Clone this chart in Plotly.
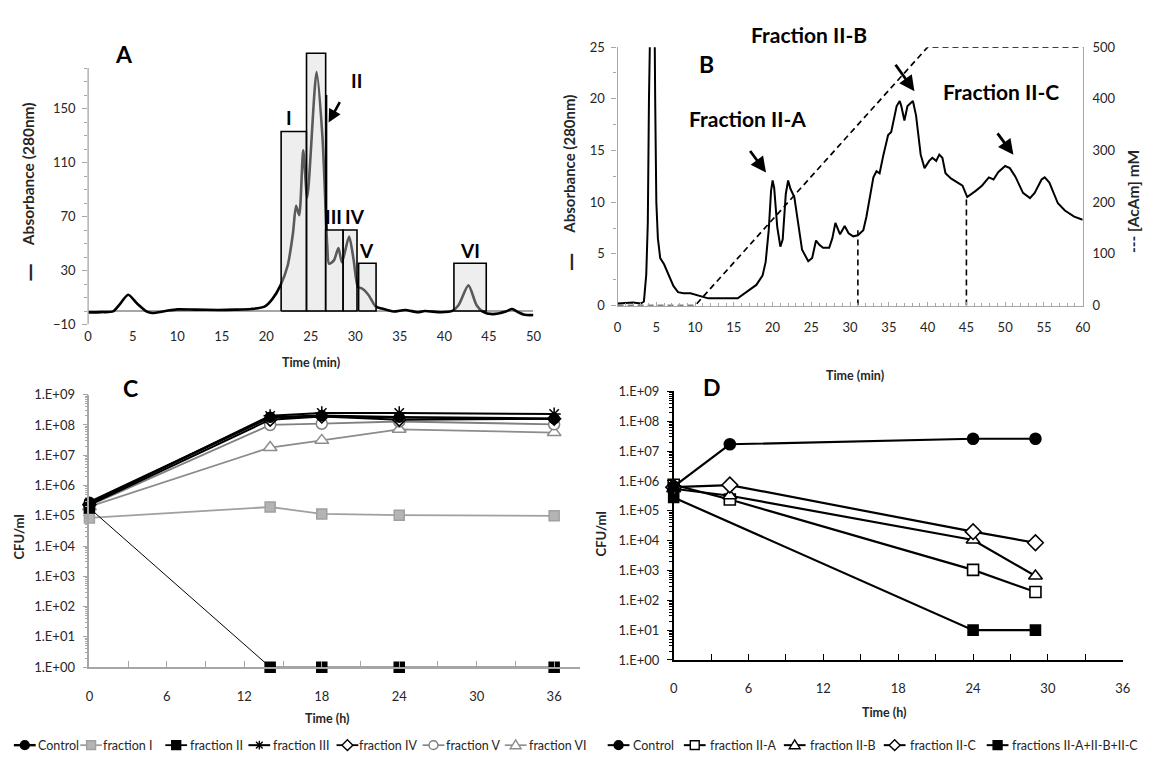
import plotly.graph_objects as go

W, H = 1157, 761


def px(x):
    return x / W


def py(y):
    return 1 - y / H


FONT = "Lato, 'Open Sans', sans-serif"
GREY_AX = "#a6a6a6"
TXT = "#262626"

# ---------------- Panel A : chromatogram + collected fractions ----------------
a_time = [0, 1.5, 2.8, 3.5, 4.5, 5.5, 6.6, 7.2, 8.7, 10, 12, 14.6, 16.5, 18.3, 19.8,
          20.7, 21.6, 22.4, 23.0, 23.35, 23.7, 24.15, 24.6, 25.65, 26.3, 26.85, 27.05,
          27.6, 28.1, 28.5, 29.3, 29.8, 30.3, 30.8, 31.5, 32.3, 33.0, 34.3, 35.6, 37.0,
          37.8, 39.6, 40.9, 41.6, 42.7, 43.6, 44.3, 45.4, 46.9, 47.6, 48.3, 49.0, 50.0]
a_abs = [-1, -0.8, -0.3, 4.5, 12, 5.5, -0.5, -1.5, 0, 1.2, 1.0, 0.8, 1.0, 1.5, 3.2,
         9, 19, 33.5, 57.6, 78, 71, 119, 84, 177, 130, 48, 35,
         37.5, 46.7, 36, 55.2, 38.3, 17.8, 16.5, 11.7, 3.3, 1.8, -0.4, 0.8, -0.9,
         0, -0.9, 0.1, 4.5, 19, 4.5, -0.4, -2.3, -0.4, 1.5, -0.9, -2.8, -3]

frac_names = ["I", "II", "III", "IV", "V", "VI"]
frac_start = [21.67, 24.52, 26.67, 28.63, 30.37, 41.07]
frac_end = [24.52, 26.67, 28.63, 30.19, 32.33, 44.70]
frac_height = [133, 191, 60, 60, 35.4, 35.4]
frac_label_x = [22.6, 30.1, 27.6, 30.0, 31.3, 42.9]
frac_label_y = [143, 171, 70, 70, 45, 45]
a_ticks = [0, 5, 10, 15, 20, 25, 30, 35, 40, 45, 50]
a_yticks = [-10, 30, 70, 110, 150]

# ---------------- Panel B : ion-exchange of fraction II ----------------
b_time = [0, 1, 2, 3, 3.4, 3.7, 3.9, 4.05, 4.3, 4.6, 4.85, 5.0, 5.2, 5.5, 6.0, 6.6, 7.2,
          7.8, 8.5, 9.4, 10.2, 11.1, 11.7, 15.5, 16.2, 17.0, 17.9, 18.7, 19.1, 19.5, 19.8,
          20.0, 20.2, 20.6, 21.0, 21.3, 21.7, 22.0, 22.3, 22.8, 23.2, 23.8, 24.6, 25.1,
          25.6, 26.0, 26.5, 27.3, 27.7, 28.1, 28.7, 29.3, 29.8, 30.4, 31.0, 31.7, 32.1,
          33.0, 33.4, 33.8, 34.3, 34.9, 35.3, 36.0, 36.4, 36.6, 37.0, 37.4, 38.1, 38.5,
          39.1, 39.6, 40.2, 40.6, 41.1, 41.5, 41.9, 42.3, 43.0, 43.8, 44.5, 45.1, 45.5,
          46.2, 47.0, 47.9, 48.5, 49.1, 50.0, 50.6, 51.3, 52.3, 53.2, 53.8, 54.7, 55.1,
          55.7, 56.8, 57.7, 58.9, 60.0]
b_abs = [0.2, 0.25, 0.3, 0.2, 0.4, 3, 8, 20, 45, 45, 20, 10, 6.5, 4.6, 4.0, 2.9, 1.9,
         1.3, 1.2, 1.2, 1.05, 0.85, 0.7, 0.7, 1.1, 1.5, 2.0, 2.9, 4.2, 7.3, 11.1,
         12.1, 11.4, 7.6, 5.7, 6.4, 10.8, 12.1, 11.3, 10.5, 8.6, 5.4, 4.3, 4.6,
         6.3, 5.9, 5.6, 5.6, 6.5, 8.0, 6.9, 7.7, 7.0, 6.7, 6.8, 7.3, 8.6,
         12.4, 13.0, 12.8, 14.6, 16.5, 16.8, 19.3, 19.8, 19.3, 17.9, 19.3, 19.8, 18.4,
         14.6, 13.3, 14.0, 14.3, 14.0, 14.6, 14.3, 12.8, 12.3, 11.9, 11.6, 10.5, 10.7,
         11.1, 11.6, 12.4, 12.2, 12.9, 13.5, 13.3, 12.5, 10.9, 10.4, 10.9, 12.2, 12.4,
         11.9, 9.9, 9.2, 8.6, 8.3]
grad_time = [0, 10, 40, 60]
grad_conc = [0, 0, 500, 500]
cut_times = [31, 45]
cut_levels = [7.3, 10.5]

# ---------------- Panel C : growth with fractions I-VI ----------------
c_time = [0, 14, 18, 24, 36]
c_control = [2.8e5, 1.8e8, 2.0e8, 1.8e8, 1.6e8]
c_frac1 = [8.5e4, 1.95e5, 1.15e5, 1.05e5, 1.0e5]
c_frac2 = [1.8e5, 1, 1, 1, 1]
c_frac3 = [2.5e5, 2.0e8, 2.5e8, 2.5e8, 2.3e8]
c_frac4 = [2.3e5, 1.5e8, 1.9e8, 1.5e8, 1.6e8]
c_frac5 = [2.2e5, 1.0e8, 1.1e8, 1.3e8, 1.05e8]
c_frac6 = [2.0e5, 1.8e7, 3.1e7, 7.2e7, 5.6e7]

# ---------------- Panel D : growth with sub-fractions of II ----------------
d_time = [0, 4.5, 24, 29]
d_control = [6.5e5, 1.7e7, 2.6e7, 2.6e7]
d_2a = [7.5e5, 2.4e5, 1.05e3, 1.9e2]
d_2b = [5.5e5, 3.2e5, 1.05e4, 6.5e2]
d_2c = [6.2e5, 7.3e5, 2.0e4, 8.5e3]
d_combo = [2.8e5, None, 10, 10]

log_tickvals = [10 ** k for k in range(10)]
log_ticktext = ["1.E+%02d" % k for k in range(10)]
log_minor = [m * 10 ** k for k in range(9) for m in range(2, 10)]
h_ticks = [0, 6, 12, 18, 24, 30, 36]
h_minor = [3, 9, 15, 21, 27, 33]

fig = go.Figure()

# ---- A traces
fig.add_trace(go.Scatter(x=a_time, y=a_abs, mode="lines",
                         line=dict(color="black", width=2.6, shape="spline", smoothing=0.7),
                         xaxis="x", yaxis="y", showlegend=False, hoverinfo="skip"))
for s, e, h in zip(frac_start, frac_end, frac_height):
    fig.add_trace(go.Scatter(x=[s, s, e, e, s], y=[0, h, h, 0, 0], mode="lines",
                             fill="toself", fillcolor="rgba(215,215,215,0.42)",
                             line=dict(color="black", width=1.6),
                             xaxis="x", yaxis="y", showlegend=False, hoverinfo="skip"))

# ---- B traces
fig.add_trace(go.Scatter(x=b_time, y=b_abs, mode="lines", line=dict(color="black", width=2),
                         xaxis="x2", yaxis="y2", showlegend=False, hoverinfo="skip"))
fig.add_trace(go.Scatter(x=grad_time, y=grad_conc, mode="lines",
                         line=dict(color="black", width=1.7, dash="6px,4px"),
                         xaxis="x2", yaxis="y3", showlegend=False, hoverinfo="skip"))
for t, lv in zip(cut_times, cut_levels):
    fig.add_trace(go.Scatter(x=[t, t], y=[0, lv], mode="lines",
                             line=dict(color="black", width=1.6, dash="6px,4px"),
                             xaxis="x2", yaxis="y2", showlegend=False, hoverinfo="skip"))

# ---- C traces  (name, values, line colour, line width, symbol, fill, edge, size)
c_series = [
    ("fraction I", c_frac1, "#a0a0a0", 1.8, "square", "#b4b4b4", "#a0a0a0", 10),
    ("fraction VI", c_frac6, "#8c8c8c", 1.8, "triangle-up", "white", "#8c8c8c", 12),
    ("fraction V", c_frac5, "#808080", 1.8, "circle", "white", "#808080", 11),
    ("fraction IV", c_frac4, "black", 2.0, "diamond", "white", "black", 10),
    ("fraction III", c_frac3, "black", 2.0, "asterisk-open", "black", "black", 11),
    ("fraction II", c_frac2, "black", 1.0, "square", "black", "black", 10),
    ("Control", c_control, "black", 2.6, "circle", "black", "black", 10),
]
for name, vals, lc, lw, sym, fc, ec, sz in c_series:
    fig.add_trace(go.Scatter(x=c_time, y=vals, mode="lines+markers", name=name,
                             line=dict(color=lc, width=lw),
                             marker=dict(symbol=sym, size=sz, color=fc,
                                         line=dict(color=ec, width=1.5)),
                             cliponaxis=False, xaxis="x3", yaxis="y4", showlegend=False))

d_series = [
    ("fractions II-A+II-B+II-C", d_combo, "square", "black", 10),
    ("fraction II-A", d_2a, "square", "white", 11),
    ("fraction II-B", d_2b, "triangle-up", "white", 12),
    ("fraction II-C", d_2c, "diamond", "white", 12),
    ("Control", d_control, "circle", "black", 11),
]
for name, vals, sym, fc, sz in d_series:
    fig.add_trace(go.Scatter(x=d_time, y=vals, mode="lines+markers", name=name,
                             connectgaps=True, line=dict(color="black", width=2.2),
                             marker=dict(symbol=sym, size=sz, color=fc,
                                         line=dict(color="black", width=1.6)),
                             cliponaxis=False, xaxis="x4", yaxis="y5", showlegend=False))

tf = dict(family=FONT, size=13, color=TXT)

# A scale: -10 at 323.3 px, 1.379 px per unit -> 192 at 44.8 px
fig.update_layout(
    width=W, height=H, margin=dict(l=0, r=0, t=0, b=0),
    paper_bgcolor="white", plot_bgcolor="rgba(0,0,0,0)",
    font=dict(family=FONT, color=TXT), showlegend=False,
    xaxis=dict(domain=[px(85), px(535)], range=[0, 50], tickmode="array", tickvals=a_ticks,
               showline=False, ticks="", showgrid=False, zeroline=False, tickfont=tf,
               anchor="y", ticklabelstandoff=2),
    yaxis=dict(domain=[py(323.3), py(44.8)], range=[-10, 192], tickmode="array",
               tickvals=a_yticks, showline=False, ticks="outside", ticklen=5,
               tickcolor=GREY_AX, showgrid=False, zeroline=True, zerolinecolor=GREY_AX,
               zerolinewidth=1.6, tickfont=tf, anchor="x", ticklabelstandoff=4,
               minor=dict(tickmode="array", tickvals=list(range(-10, 181, 10)),
                          ticks="outside", ticklen=3, tickcolor=GREY_AX)),
    xaxis2=dict(domain=[px(620), px(1090)], range=[0, 60], dtick=5, tick0=0,
                showline=True, linecolor=GREY_AX, linewidth=1.2, ticks="inside", ticklen=4,
                tickcolor=GREY_AX, showgrid=False, zeroline=False, tickfont=tf, anchor="y2",
                ticklabelstandoff=10,
                minor=dict(dtick=1, ticks="inside", ticklen=3, tickcolor=GREY_AX)),
    yaxis2=dict(domain=[py(304), py(40)], range=[0, 25], dtick=5, showline=True,
                linecolor=GREY_AX, linewidth=1.2, ticks="outside", ticklen=5,
                tickcolor=GREY_AX, showgrid=False, zeroline=False, tickfont=tf,
                anchor="x2", ticklabelstandoff=4,
                minor=dict(dtick=2.5, ticks="outside", ticklen=3, tickcolor=GREY_AX)),
    yaxis3=dict(domain=[py(304), py(40)], range=[0, 500], dtick=100, overlaying="y2",
                side="right", anchor="x2", showline=True, linecolor=GREY_AX, linewidth=1.2,
                ticks="", showgrid=False, zeroline=False, tickfont=tf, ticklabelstandoff=6),
    xaxis3=dict(domain=[px(86.3), px(582)], range=[0, 38], tickmode="array", tickvals=h_ticks,
                showline=True, linecolor=GREY_AX, linewidth=1.6, ticks="inside", ticklen=6,
                tickcolor=GREY_AX, showgrid=False, zeroline=False, tickfont=tf, anchor="y4",
                ticklabelstandoff=16,
                minor=dict(tickmode="array", tickvals=h_minor, ticks="inside", ticklen=6,
                           tickcolor=GREY_AX)),
    yaxis4=dict(domain=[py(673.3), py(395)], type="log", range=[0, 9], tickmode="array",
                tickvals=log_tickvals, ticktext=log_ticktext, showline=True,
                linecolor=GREY_AX, linewidth=1.6, ticks="outside", ticklen=5,
                tickcolor=GREY_AX, showgrid=False, zeroline=False, tickfont=tf,
                anchor="x3", ticklabelstandoff=5,
                minor=dict(tickmode="array", tickvals=log_minor, ticks="outside", ticklen=3,
                           tickcolor=GREY_AX)),
    xaxis4=dict(domain=[px(676.7), px(1130.5)], range=[0, 36], tickmode="array",
                tickvals=h_ticks, showline=True, linecolor="black", linewidth=1.6,
                ticks="inside", ticklen=6, tickcolor="black", showgrid=False, zeroline=False,
                tickfont=tf, anchor="y5", ticklabelstandoff=16,
                minor=dict(tickmode="array", tickvals=h_minor, ticks="inside", ticklen=6,
                           tickcolor="black")),
    yaxis5=dict(domain=[py(666), py(391.7)], type="log", range=[0, 9], tickmode="array",
                tickvals=log_tickvals, ticktext=log_ticktext, showline=True,
                linecolor="black", linewidth=1.6, ticks="outside", ticklen=5,
                tickcolor="black", showgrid=False, zeroline=False, tickfont=tf,
                anchor="x4", ticklabelstandoff=5,
                minor=dict(tickmode="array", tickvals=log_minor, ticks="outside", ticklen=3,
                           tickcolor="black")),
)

shapes = []
annotations = []


def note(x, y, text, size=13, bold=True, angle=0, xanchor="center", color=TXT):
    t = "<b>%s</b>" % text if bold else text
    annotations.append(dict(x=px(x), y=py(y), xref="paper", yref="paper", text=t,
                            showarrow=False, textangle=angle, xanchor=xanchor,
                            yanchor="middle", font=dict(family=FONT, size=size, color=color)))


def arrow(x_tail, y_tail, x_head, y_head):
    annotations.append(dict(x=px(x_head), y=py(y_head), xref="paper", yref="paper",
                            ax=x_tail - x_head, ay=y_tail - y_head, text="",
                            showarrow=True, arrowhead=2, arrowsize=1.1, arrowwidth=2.8,
                            arrowcolor="black"))


# A axis line (stops at 180 while the range extends for the tall fraction II box)
shapes.append(dict(type="line", xref="paper", yref="y", x0=px(85), x1=px(85), y0=-10, y1=180,
                   line=dict(color=GREY_AX, width=1.3)))
# fraction II marker line
shapes.append(dict(type="line", xref="x", yref="y", x0=frac_end[1] + 0.1, x1=frac_end[1] + 0.1,
                   y0=frac_height[2], y1=160, line=dict(color="black", width=1.6)))
for name, lx, ly in zip(frac_names, frac_label_x, frac_label_y):
    annotations.append(dict(x=lx, y=ly, xref="x", yref="y", text="<b>%s</b>" % name,
                            showarrow=False, font=dict(family=FONT, size=19, color="black")))
annotations.append(dict(x=px(328), y=py(117), xref="paper", yref="paper", ax=12, ay=-22,
                        text="", showarrow=True, arrowhead=2, arrowsize=1.0, arrowwidth=2.6,
                        arrowcolor="black"))

# panel letters
note(121, 47, "A", size=23, color="black")
note(710, 57, "B", size=23, color="black")
note(128, 388, "C", size=23, color="black")
note(715, 387, "D", size=23, color="black")

# axis titles (line-style key drawn as a separate dash, as in the original)
note(25, 170, "Absorbance (280nm)", size=15.5, angle=-90)
note(25, 270, "—", size=24, angle=-90)
note(310, 362, "Time (min)", size=12.5)
note(571, 160, "Absorbance (280nm)", size=15, angle=-90)
note(571, 260, "—", size=24, angle=-90)
note(1141, 198, "--- [AcAm] mM", size=15.5, angle=-90)
note(860, 375, "Time (min)", size=12.5)
note(15, 540, "CFU/ml", size=13, angle=-90)
note(327, 726, "Time (h)", size=12.5)
note(603, 537, "CFU/ml", size=13, angle=-90)
note(890, 720, "Time (h)", size=12.5)

# B labels and arrows
note(751, 113, "Fraction II-A", size=21, color="black")
note(813, 27, "Fraction II-B", size=21, color="black")
note(1007, 85, "Fraction II-C", size=21, color="black")
arrow(753, 145, 770, 168)
arrow(900, 57, 920, 85)
arrow(1003, 127, 1020, 150)


# ---- hand-made compact legends (Excel style)
def glyph(cx, cy, sym, fill, edge, r=4.5):
    X0, X1 = px(cx - r), px(cx + r)
    Y0, Y1 = py(cy + r), py(cy - r)
    ln = dict(color=edge, width=1.4)
    if sym == "circle":
        shapes.append(dict(type="circle", xref="paper", yref="paper", x0=X0, x1=X1, y0=Y0,
                           y1=Y1, fillcolor=fill, line=ln))
    elif sym == "square":
        shapes.append(dict(type="rect", xref="paper", yref="paper", x0=X0, x1=X1, y0=Y0,
                           y1=Y1, fillcolor=fill, line=ln))
    elif sym == "diamond":
        p = "M %f,%f L %f,%f L %f,%f L %f,%f Z" % (px(cx), py(cy - r - 1), px(cx + r + 1), py(cy),
                                                px(cx), py(cy + r + 1), px(cx - r - 1), py(cy))
        shapes.append(dict(type="path", xref="paper", yref="paper", path=p, fillcolor=fill,
                           line=ln))
    elif sym == "triangle":
        p = "M %f,%f L %f,%f L %f,%f Z" % (px(cx), py(cy - r - 1), px(cx + r + 1),
                                          py(cy + r * 0.8), px(cx - r - 1), py(cy + r * 0.8))
        shapes.append(dict(type="path", xref="paper", yref="paper", path=p, fillcolor=fill,
                           line=ln))
    elif sym == "asterisk":
        d = r * 0.75
        p = "M %f,%f L %f,%f M %f,%f L %f,%f M %f,%f L %f,%f" % (
            px(cx), py(cy - r), px(cx), py(cy + r),
            px(cx - d), py(cy - d), px(cx + d), py(cy + d),
            px(cx - d), py(cy + d), px(cx + d), py(cy - d))
        shapes.append(dict(type="path", xref="paper", yref="paper", path=p,
                           line=dict(color=edge, width=1.4)))


def legend_entry(x0, xt, y, label, lcolor, lwidth, sym, fill, edge):
    shapes.append(dict(type="line", xref="paper", yref="paper", x0=px(x0), x1=px(x0 + 22),
                       y0=py(y), y1=py(y), line=dict(color=lcolor, width=max(lwidth, 1.5))))
    glyph(x0 + 11, y, sym, fill, edge)
    note(xt, y, label, size=12.5, bold=False, xanchor="left")


LY = 753
c_leg = [
    (10, 32.5, "Control", "black", 2.4, "circle", "black", "black"),
    (77, 98.5, "fraction I", "#a0a0a0", 1.8, "square", "#b4b4b4", "#a0a0a0"),
    (163, 185.5, "fraction II", "black", 1.8, "square", "black", "black"),
    (247, 269.5, "fraction III", "black", 2.0, "asterisk", "black", "black"),
    (336, 357, "fraction IV", "black", 1.8, "diamond", "white", "black"),
    (423, 445, "fraction V", "#808080", 1.6, "circle", "white", "#808080"),
    (506, 528.5, "fraction VI", "#8c8c8c", 1.6, "triangle", "white", "#8c8c8c"),
]
d_leg = [
    (610, 634, "Control", "black", 2.0, "circle", "black", "black"),
    (687, 711, "fraction II-A", "black", 2.0, "square", "white", "black"),
    (788, 812, "fraction II-B", "black", 2.0, "triangle", "white", "black"),
    (889, 913, "fraction II-C", "black", 2.0, "diamond", "white", "black"),
    (993, 1016.5, "fractions II-A+II-B+II-C", "black", 2.0, "square", "black", "black"),
]
for e in c_leg + d_leg:
    legend_entry(e[0], e[1], LY, e[2], e[3], e[4], e[5], e[6], e[7])

fig.update_layout(shapes=shapes, annotations=annotations)
fig.write_html("out.html", config={"displayModeBar": False},
               post_script="document.body.style.margin='0px';")
